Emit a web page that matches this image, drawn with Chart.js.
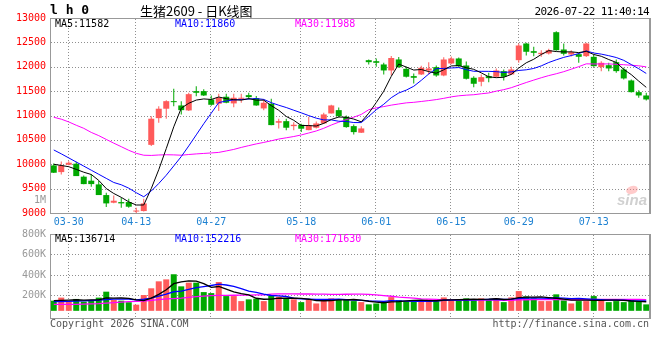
<!DOCTYPE html>
<html><head><meta charset="utf-8">
<script src="https://cdn.jsdelivr.net/npm/chart.js@4/dist/chart.umd.min.js"></script>
<style>
html,body{margin:0;padding:0;background:#fff;}
#wrap{position:relative;width:660px;height:360px;overflow:hidden;}
canvas{position:absolute;left:0;top:0;}
</style></head><body>
<div id="wrap"><canvas id="k" width="660" height="360"></canvas><canvas id="v" width="660" height="360"></canvas></div>
<script>
// ---------- data ----------
const dates = ['03-26','03-27','03-30','03-31','04-01','04-02','04-03','04-07','04-08','04-09',
  '04-10','04-13','04-14','04-15','04-16','04-17','04-20','04-21','04-22','04-23',
  '04-24','04-27','04-28','04-29','04-30','05-06','05-07','05-08','05-11','05-12',
  '05-13','05-14','05-15','05-18','05-19','05-20','05-21','05-22','05-25','05-26',
  '05-27','05-28','05-29','06-01','06-02','06-03','06-04','06-05','06-08','06-09',
  '06-10','06-11','06-12','06-15','06-16','06-17','06-18','06-22','06-23','06-24',
  '06-25','06-26','06-29','06-30','07-01','07-02','07-03','07-06','07-07','07-08',
  '07-09','07-10','07-13','07-14','07-15','07-16','07-17','07-20','07-21','07-22'];
const tickLabels = ['03-30','04-13','04-27','05-18','06-01','06-15','06-29','07-13'];

const open = [9976,9839,9990,10011,9745,9663,9587,9368,9211,9224,
  9224,9030,9040,10398,10946,11139,11294,11206,11104,11500,
  11500,11329,11241,11385,11248,11343,11418,11356,11145,11241,
  10852,10884,10782,10810,10700,10749,10837,11042,11110,10974,
  10782,10647,12135,12114,12047,11924,12150,11958,11808,11842,
  11924,11992,11821,12067,12170,12026,11774,11692,11808,11795,
  11910,11842,12135,12477,12320,12258,12272,12709,12354,12252,
  12258,12217,12204,11992,12032,12094,11944,11719,11479,11411];
const high = [10017,10058,10060,10052,9771,9798,9655,9417,9361,9314,
  9294,9110,9294,10987,11192,11315,11548,11294,11466,11602,
  11540,11410,11446,11446,11446,11446,11466,11400,11329,11343,
  10934,10934,10864,10831,10974,10878,11056,11220,11165,11000,
  10817,10782,12150,12170,12081,12220,12200,12000,11862,12020,
  12094,12026,12196,12211,12190,12108,11807,11842,11876,11965,
  11944,12000,12477,12491,12409,12340,12368,12730,12477,12340,
  12286,12491,12250,12115,12081,12149,11980,11740,11520,11466];
const low = [9818,9792,9980,9757,9590,9540,9368,9121,9200,9109,
  9110,9000,9030,10372,10852,10934,11192,11022,11090,11397,
  11400,11200,11090,11250,11171,11262,11330,11200,11110,10800,
  10735,10700,10700,10659,10700,10735,10837,11042,10960,10750,
  10612,10640,12047,12000,11842,11821,11980,11780,11657,11830,
  11842,11795,11807,12050,11990,11740,11581,11602,11684,11780,
  11719,11830,12081,12231,12217,12204,12250,12330,12231,12210,
  12081,12200,12000,11910,11910,11876,11740,11470,11364,11309];
const close = [9826,9976,10031,9757,9593,9593,9368,9197,9252,9197,
  9129,9045,9197,10934,11139,11294,11274,11110,11438,11466,
  11411,11220,11364,11262,11364,11364,11377,11206,11262,10803,
  10884,10749,10810,10729,10796,10837,11022,11206,10987,10762,
  10659,10735,12094,12081,11924,12180,11990,11795,11774,11979,
  11965,11821,12149,12170,12012,11753,11651,11787,11766,11924,
  11795,11944,12436,12307,12286,12286,12340,12340,12266,12300,
  12204,12477,12012,12081,11965,11910,11760,11479,11411,11329];
const volume = [149000,179000,140000,166000,140000,156000,179000,237000,156000,149000,
  134000,110000,204000,270000,338000,357000,407000,289000,325000,325000,
  233000,223000,331000,194000,194000,145000,162000,169000,145000,201000,
  188000,169000,162000,135000,162000,122000,162000,172000,162000,162000,
  145000,135000,113000,122000,129000,184000,155000,145000,145000,145000,
  162000,145000,181000,152000,152000,172000,162000,172000,162000,172000,
  135000,181000,243000,191000,172000,145000,145000,211000,152000,122000,
  145000,145000,194000,152000,135000,145000,135000,162000,139000,113000];

// moving-average values at the left edge (their earlier closes are off-chart)
const ma5Lead = [10000,9975,9950,9895];
const ma10Lead = [10293,10214,10130,10046,9962,9878,9794,9710,9626];
const ma30Lead = [10964,10925,10868,10800,10737,10653,10587,10509,10433,10360,
  10286,10224,10185,10181,10190,10195,10192,10185,10200,10212,
  10222,10232,10243,10273,10304,10345,10382,10417,10448];
const vma5Lead = [150000,152000,155000,158000];
const vma10Lead = [140000,141000,143000,145000,148000,151000,155000,160000,165000];
const vma30Lead = [113000,113000,113000,113000,115000,117000,120000,125000,130000,135000,
  139000,142000,146000,152000,160000,166000,170000,175000,182000,188000,
  194000,198000,200000,201000,202000,203000,204000,205000,206000];

const priceHeader = ['MA5:11582','MA10:11860','MA30:11988'];
const volHeader = ['MA5:136714','MA10:152216','MA30:171630'];
const priceTicks = {min:9000, max:13000, step:500};
const volTicks = [200000,400000,600000,800000];
const VOL_BAR_BASE = 50000;

// ---------- helpers ----------
function movingAvg(src, n, lead){
  return src.map((_, i) => {
    if (i < n - 1) return lead[i];
    let s = 0; for (let k = i - n + 1; k <= i; k++) s += src[k];
    return s / n;
  });
}
const RED = '#ff5a5a', GREEN = '#00a800';
const upColors = close.map((c, i) => c >= open[i] ? RED : GREEN);
const MONO = '"DejaVu Sans Mono", "Liberation Mono", monospace';
const gridColor = '#8f8f8f';
const isLabelTick = i => tickLabels.includes(dates[i]);

// dotted grid drawn from the chart's own scales (1px dots)
const dotGrid = {
  id: 'dotGrid',
  beforeDatasetsDraw(chart){
    const {ctx, chartArea:a, scales} = chart;
    ctx.save();
    ctx.fillStyle = gridColor;
    const L = Math.round(a.left), R = Math.round(a.right), T = Math.round(a.top), B = Math.round(a.bottom);
    scales.y.ticks.forEach(t => {
      const y = Math.round(scales.y.getPixelForValue(t.value));
      for (let x = L + 1; x < R; x += 3) ctx.fillRect(x, y, 1, 1);
    });
    dates.forEach((d, i) => {
      if (!isLabelTick(i)) return;
      const x = Math.round(scales.x.getPixelForValue(i)) - 1;
      for (let y = T + 1; y < B; y += 3) ctx.fillRect(x, y, 1, 1);
    });
    ctx.restore();
  }
};

const framePlugin = {
  id: 'frame',
  afterDatasetsDraw(chart){
    const {ctx, chartArea:a} = chart;
    ctx.save();
    ctx.strokeStyle = '#999';
    ctx.lineWidth = 1;
    ctx.strokeRect(Math.round(a.left) + 0.5, Math.round(a.top) + 0.5,
      Math.round(a.right - a.left) - 1, Math.round(a.bottom - a.top));
    ctx.beginPath();
    ctx.lineWidth = 2;
    ctx.moveTo(Math.round(a.right), a.top); ctx.lineTo(Math.round(a.right), a.bottom + 1);
    ctx.stroke();
    ctx.restore();
  }
};

const mainText = {
  id: 'mainText',
  afterDraw(chart){
    const {ctx} = chart;
    ctx.save();
    ctx.textBaseline = 'middle';
    ctx.fillStyle = '#000';
    ctx.font = 'bold 13px ' + MONO;
    ctx.textAlign = 'left';
    ctx.fillText('l h 0', 50, 11);
    ctx.font = '13px "Noto Sans CJK SC", sans-serif';
    ctx.fillText('生猪2609 - 日K线图', 140, 11);
    ctx.font = '11px ' + MONO;
    ctx.letterSpacing = '-0.6px';
    ctx.textAlign = 'right';
    ctx.fillText('2026-07-22 11:40:14', 649, 12);
    ctx.letterSpacing = '0px';
    ctx.font = '10px ' + MONO;
    ctx.textAlign = 'left';
    const cols = ['#000000', '#0000ff', '#ff00ff'];
    const xs = [55, 175, 295];
    priceHeader.forEach((t, i) => { ctx.fillStyle = cols[i]; ctx.fillText(t, xs[i], 24); });
    ctx.fillStyle = '#999';
    ctx.textAlign = 'right';
    ctx.fillText('1M', 46, 200);
    // watermark
    ctx.textAlign = 'left';
    ctx.fillStyle = 'rgba(255,140,140,0.45)';
    ctx.beginPath(); ctx.ellipse(632, 190, 6, 4, -0.3, 0, Math.PI * 2); ctx.fill();
    ctx.fillStyle = 'rgba(170,170,170,0.55)';
    ctx.font = 'italic bold 15px "Liberation Sans", sans-serif';
    ctx.fillText('sina', 617, 201);
    // footer
    ctx.font = '10px ' + MONO;
    ctx.fillStyle = '#555';
    ctx.fillText('Copyright 2026 SINA.COM', 50, 324);
    ctx.textAlign = 'right';
    ctx.fillText('http://finance.sina.com.cn', 649, 324);
    ctx.restore();
  }
};

const volText = {
  id: 'volText',
  afterDraw(chart){
    const {ctx} = chart;
    ctx.save();
    ctx.textBaseline = 'middle';
    ctx.font = '10px ' + MONO;
    const cols = ['#000000', '#0000ff', '#ff00ff'];
    const xs = [55, 175, 295];
    volHeader.forEach((t, i) => { ctx.fillStyle = cols[i]; ctx.fillText(t, xs[i], 239); });
    ctx.restore();
  }
};

const lineDs = (label, data, color, w) => ({
  type: 'line', label, data, borderColor: color, borderWidth: w, pointRadius: 0,
  tension: 0, fill: false, order: 0, spanGaps: true
});

const xScale = (showLabels) => ({
  offset: true,
  grid: { display: false, offset: false, drawTicks: false },
  border: { display: false },
  ticks: { display: showLabels, autoSkip: false, maxRotation: 0, color: '#1e82d2', padding: 3,
    font: { family: MONO, size: 10 },
    callback: (v, i) => isLabelTick(i) ? dates[i] : '' },
  afterFit: s => { s.height = showLabels ? 20 : 0; }
});

Chart.defaults.animation = false;

new Chart(document.getElementById('k'), {
  type: 'bar',
  data: {
    labels: dates,
    datasets: [
      lineDs('MA5', movingAvg(close, 5, ma5Lead), '#000000', 1),
      lineDs('MA10', movingAvg(close, 10, ma10Lead), '#0000ff', 1),
      lineDs('MA30', movingAvg(close, 30, ma30Lead), '#ff00ff', 1),
      { label: 'wick', data: low.map((l, i) => [l, high[i]]), backgroundColor: upColors,
        barThickness: 1, minBarLength: 1, grouped: false, order: 2, inflateAmount: 0 },
      { label: 'body', data: open.map((o, i) => [o, close[i]]), backgroundColor: upColors,
        barThickness: 6, minBarLength: 1, grouped: false, order: 1, inflateAmount: 0 }
    ]
  },
  options: {
    responsive: false, devicePixelRatio: 1, animation: false,
    layout: { padding: { left: 0, right: 10, top: 18, bottom: 127 } },
    plugins: { legend: { display: false }, tooltip: { enabled: false } },
    scales: {
      x: xScale(true),
      y: {
        min: priceTicks.min, max: priceTicks.max,
        ticks: { stepSize: priceTicks.step, color: '#ff0000', padding: 4, font: { family: MONO, size: 10 },
          callback: v => String(v) },
        grid: { display: false, drawTicks: false },
        border: { display: false },
        afterFit: s => { s.width = 50; }
      }
    }
  },
  plugins: [dotGrid, framePlugin, mainText]
});

new Chart(document.getElementById('v'), {
  type: 'bar',
  data: {
    labels: dates,
    datasets: [
      lineDs('VMA5', movingAvg(volume, 5, vma5Lead), '#000000', 1.3),
      lineDs('VMA10', movingAvg(volume, 10, vma10Lead), '#0000ff', 1.3),
      lineDs('VMA30', movingAvg(volume, 30, vma30Lead), '#ff00ff', 1.3),
      { label: 'volume', data: volume, backgroundColor: upColors, barThickness: 6,
        base: VOL_BAR_BASE, order: 1, inflateAmount: 0 }
    ]
  },
  options: {
    responsive: false, devicePixelRatio: 1, animation: false,
    layout: { padding: { left: 0, right: 10, top: 234, bottom: 42 } },
    plugins: { legend: { display: false }, tooltip: { enabled: false } },
    scales: {
      x: xScale(false),
      y: {
        min: -20000, max: 800000,
        afterBuildTicks: s => { s.ticks = volTicks.map(v => ({ value: v })); },
        ticks: { color: '#999999', padding: 4, font: { family: MONO, size: 10 },
          callback: v => (v / 1000) + 'K' },
        grid: { display: false, drawTicks: false },
        border: { display: false },
        afterFit: s => { s.width = 50; }
      }
    }
  },
  plugins: [dotGrid, framePlugin, volText]
});
</script>
</body></html>
